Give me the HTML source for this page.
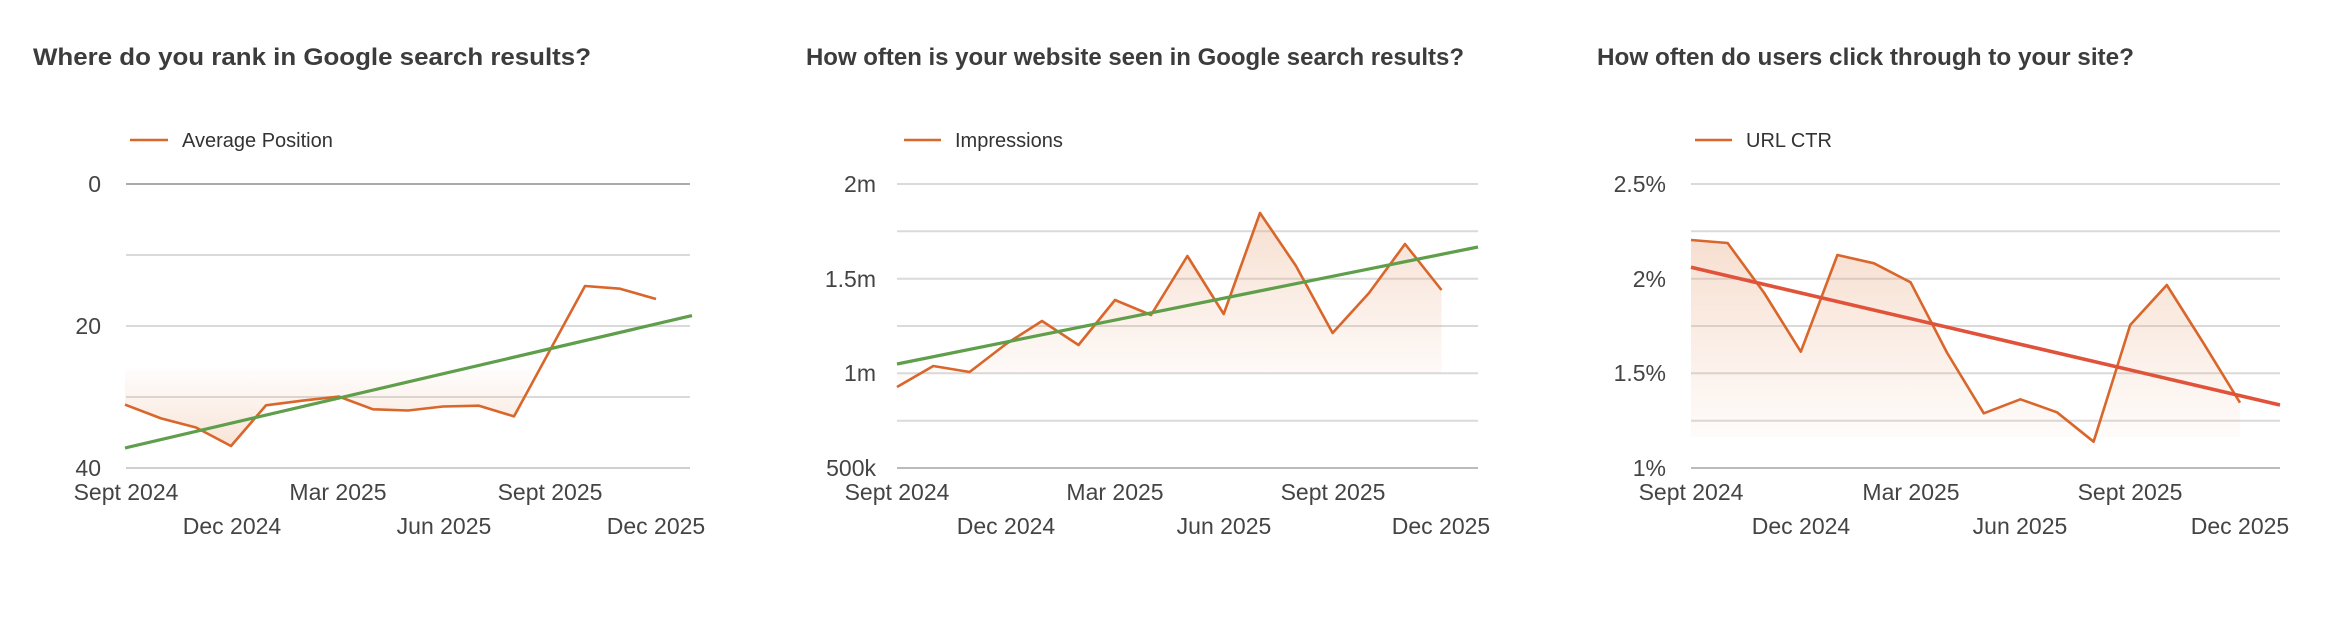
<!DOCTYPE html>
<html><head><meta charset="utf-8"><style>
html,body{margin:0;padding:0;background:#fff;}
svg{display:block;}
text{font-family:"Liberation Sans",Arial,sans-serif;fill:#444;}
.t{font-weight:bold;font-size:24px;fill:#3c3c3c;}
.l{font-size:20px;fill:#333;}
.a{font-size:23px;}
.g{stroke:#dadada;stroke-width:2;}
.o{fill:none;stroke:#d9662a;stroke-width:2.6;stroke-linejoin:round;}
</style></head><body>
<svg width="2332" height="624" viewBox="0 0 2332 624">
<defs>
<linearGradient id="f1" x1="0" y1="0" x2="0" y2="1"><stop offset="0" stop-color="#e8a47a" stop-opacity="0.02"/><stop offset="1" stop-color="#e8a47a" stop-opacity="0.3"/></linearGradient>
<linearGradient id="f2" x1="0" y1="0" x2="0" y2="1"><stop offset="0" stop-color="#e8a47a" stop-opacity="0.35"/><stop offset="1" stop-color="#e8a47a" stop-opacity="0.03"/></linearGradient>
</defs>

<!-- Chart 1 -->
<text class="t" x="33" y="65" textLength="558" lengthAdjust="spacingAndGlyphs">Where do you rank in Google search results?</text>
<line x1="130" y1="140" x2="168" y2="140" stroke="#d9662a" stroke-width="2.6"/>
<text class="l" x="182" y="147">Average Position</text>
<line class="g" x1="126" y1="255" x2="690" y2="255"/>
<line class="g" x1="126" y1="326" x2="690" y2="326"/>
<line class="g" x1="126" y1="397" x2="690" y2="397"/>
<line x1="126" y1="468" x2="690" y2="468" stroke="#d0d0d0" stroke-width="2"/>
<line x1="126" y1="184" x2="690" y2="184" stroke="#aaa" stroke-width="2"/>
<text class="a" x="101" y="192" text-anchor="end">0</text>
<text class="a" x="101" y="334" text-anchor="end">20</text>
<text class="a" x="101" y="476" text-anchor="end">40</text>
<polygon fill="url(#f1)" points="125,369 125,404.6 161,418.4 196,427.5 231,446 266,405.3 303,400.6 339,396.6 373,409.3 408,410.5 443,406.5 479,405.7 514,416.4 535,369"/>
<polyline class="o" points="125,404.6 161,418.4 196,427.5 231,446 266,405.3 303,400.6 339,396.6 373,409.3 408,410.5 443,406.5 479,405.7 514,416.4 549,352 585,286 620,288.7 656,299"/>
<line x1="125" y1="448" x2="692" y2="315.6" stroke="#5f9e4a" stroke-width="3.2"/>
<text class="a" x="126" y="500" text-anchor="middle">Sept 2024</text>
<text class="a" x="232" y="534" text-anchor="middle">Dec 2024</text>
<text class="a" x="338" y="500" text-anchor="middle">Mar 2025</text>
<text class="a" x="444" y="534" text-anchor="middle">Jun 2025</text>
<text class="a" x="550" y="500" text-anchor="middle">Sept 2025</text>
<text class="a" x="656" y="534" text-anchor="middle">Dec 2025</text>

<!-- Chart 2 -->
<text class="t" x="806" y="65" textLength="658" lengthAdjust="spacingAndGlyphs">How often is your website seen in Google search results?</text>
<line x1="904" y1="140" x2="941" y2="140" stroke="#d9662a" stroke-width="2.6"/>
<text class="l" x="955" y="147">Impressions</text>
<line class="g" x1="897" y1="184" x2="1478" y2="184"/>
<line class="g" x1="897" y1="231.3" x2="1478" y2="231.3"/>
<line class="g" x1="897" y1="278.7" x2="1478" y2="278.7"/>
<line class="g" x1="897" y1="326" x2="1478" y2="326"/>
<line class="g" x1="897" y1="373.3" x2="1478" y2="373.3"/>
<line class="g" x1="897" y1="420.7" x2="1478" y2="420.7"/>
<line x1="897" y1="468" x2="1478" y2="468" stroke="#bbb" stroke-width="2"/>
<text class="a" x="876" y="192" text-anchor="end">2m</text>
<text class="a" x="876" y="287" text-anchor="end">1.5m</text>
<text class="a" x="876" y="381" text-anchor="end">1m</text>
<text class="a" x="876" y="476" text-anchor="end">500k</text>
<polygon fill="url(#f2)" points="897,373.3 897,387 933.3,366 969.6,372 1006,344 1042,321 1078.5,345 1115,300 1151,315 1187.4,256 1223.7,314 1260,213 1296,266 1332.6,333 1369,293 1405,244 1441.5,290 1441.5,373.3"/>
<polyline class="o" points="897,387 933.3,366 969.6,372 1006,344 1042,321 1078.5,345 1115,300 1151,315 1187.4,256 1223.7,314 1260,213 1296,266 1332.6,333 1369,293 1405,244 1441.5,290"/>
<line x1="897" y1="364" x2="1478" y2="247" stroke="#5f9e4a" stroke-width="3.2"/>
<text class="a" x="897" y="500" text-anchor="middle">Sept 2024</text>
<text class="a" x="1006" y="534" text-anchor="middle">Dec 2024</text>
<text class="a" x="1115" y="500" text-anchor="middle">Mar 2025</text>
<text class="a" x="1224" y="534" text-anchor="middle">Jun 2025</text>
<text class="a" x="1333" y="500" text-anchor="middle">Sept 2025</text>
<text class="a" x="1441" y="534" text-anchor="middle">Dec 2025</text>

<!-- Chart 3 -->
<text class="t" x="1597" y="65" textLength="537" lengthAdjust="spacingAndGlyphs">How often do users click through to your site?</text>
<line x1="1695" y1="140" x2="1732" y2="140" stroke="#d9662a" stroke-width="2.6"/>
<text class="l" x="1746" y="147">URL CTR</text>
<line class="g" x1="1691" y1="184" x2="2280" y2="184"/>
<line class="g" x1="1691" y1="231.3" x2="2280" y2="231.3"/>
<line class="g" x1="1691" y1="278.7" x2="2280" y2="278.7"/>
<line class="g" x1="1691" y1="326" x2="2280" y2="326"/>
<line class="g" x1="1691" y1="373.3" x2="2280" y2="373.3"/>
<line class="g" x1="1691" y1="420.7" x2="2280" y2="420.7"/>
<line x1="1691" y1="468" x2="2280" y2="468" stroke="#bbb" stroke-width="2"/>
<text class="a" x="1666" y="192" text-anchor="end">2.5%</text>
<text class="a" x="1666" y="287" text-anchor="end">2%</text>
<text class="a" x="1666" y="381" text-anchor="end">1.5%</text>
<text class="a" x="1666" y="476" text-anchor="end">1%</text>
<polygon fill="url(#f2)" points="1691,437 1691,240 1727.6,243 1764.2,293 1800.8,351.7 1837.4,255 1874,263.3 1910.6,282.3 1947.2,353 1983.8,413.3 2020.4,399.3 2057,412.3 2093.6,441.7 2130.2,325 2166.8,285 2203.4,343 2240,402.7 2240,437"/>
<polyline class="o" points="1691,240 1727.6,243 1764.2,293 1800.8,351.7 1837.4,255 1874,263.3 1910.6,282.3 1947.2,353 1983.8,413.3 2020.4,399.3 2057,412.3 2093.6,441.7 2130.2,325 2166.8,285 2203.4,343 2240,402.7"/>
<line x1="1691" y1="267.3" x2="2280" y2="405" stroke="#e0533a" stroke-width="3.6"/>
<text class="a" x="1691" y="500" text-anchor="middle">Sept 2024</text>
<text class="a" x="1801" y="534" text-anchor="middle">Dec 2024</text>
<text class="a" x="1911" y="500" text-anchor="middle">Mar 2025</text>
<text class="a" x="2020" y="534" text-anchor="middle">Jun 2025</text>
<text class="a" x="2130" y="500" text-anchor="middle">Sept 2025</text>
<text class="a" x="2240" y="534" text-anchor="middle">Dec 2025</text>
</svg>
</body></html>
